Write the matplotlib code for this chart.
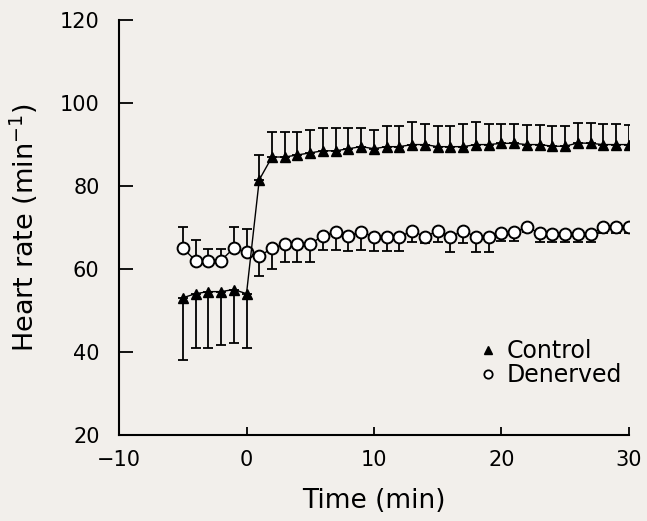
import numpy as np
import matplotlib
matplotlib.use("Agg")
import matplotlib.pyplot as plt
from matplotlib.lines import Line2D

# minutes relative to stimulus
time = np.arange(-5, 31)

control = [53, 54, 54.5, 54.5, 55, 54,
           81.5, 87, 87, 87.5, 88, 88.5, 88.5, 89, 89.5, 89, 89.5, 89.5, 90, 90,
           89.5, 89.5, 89.5, 90, 90, 90.3, 90.3, 90, 90, 89.6, 89.6, 90.4, 90.3,
           90, 90, 90]
control_err = [15, 13, 13.5, 13, 13, 13,
               6, 6, 6, 5.5, 5.5, 5.5, 5.5, 5, 4.5, 4.5, 5, 5, 5.5, 5,
               5, 5, 5.5, 5.5, 5, 4.6, 4.6, 4.8, 4.8, 5, 4.8, 4.8, 4.9,
               5, 5, 4.8]

denerved = [65, 62, 62, 62, 65, 64,
            63, 65, 66, 66, 66, 68, 69, 68, 69, 67.7, 67.7, 67.7, 69.2, 67.7,
            69.2, 67.7, 69.2, 67.7, 67.7, 68.7, 68.9, 70, 68.7, 68.5, 68.5, 68.5,
            68.5, 70, 70, 70]
denerved_err = [5, 5, 2.8, 2.8, 5, 5.5,
                4.7, 5, 4.3, 4.3, 4.3, 3.5, 4.5, 3.6, 4.5, 3.4, 3.4, 3.4, 2.7, 1.4,
                2.7, 3.6, 2.9, 3.6, 3.6, 2, 2.1, 1, 2.2, 2, 2, 2,
                2, 1.3, 1.3, 1.3]

control = np.array(control)
control_err = np.array(control_err)
denerved = np.array(denerved)
denerved_err = np.array(denerved_err)

pre = time <= 0
post = time > 0

bg = '#f2efeb'
fig = plt.figure(figsize=(6.47, 5.21), dpi=100, facecolor=bg)
ax = fig.add_axes([0.184, 0.166, 0.788, 0.795], facecolor=bg)

eb = dict(fmt='none', ecolor='black', elinewidth=1.3, capsize=3.6, capthick=1.3, zorder=2)
# control: lower bars before 0, upper bars after
ax.errorbar(time[pre], control[pre], yerr=[control_err[pre], np.zeros(pre.sum())], **eb)
ax.errorbar(time[post], control[post], yerr=[np.zeros(post.sum()), control_err[post]], **eb)
# denerved: upper bars before 0, lower bars after
ax.errorbar(time[pre], denerved[pre], yerr=[np.zeros(pre.sum()), denerved_err[pre]], **eb)
ax.errorbar(time[post], denerved[post], yerr=[denerved_err[post], np.zeros(post.sum())], **eb)

ax.plot(time, control, color='black', lw=1, marker='^', ms=7.5,
        mfc='black', mec='black', zorder=4)
ax.plot(time, denerved, color='black', lw=1, marker='o', ms=8.5,
        mfc='white', mec='black', mew=1.4, zorder=3)

ax.set_xlim(-10, 30)
ax.set_ylim(20, 120)
ax.set_xticks([-10, 0, 10, 20, 30])
ax.set_yticks([20, 40, 60, 80, 100, 120])
ax.set_xticklabels(['\u221210', '0', '10', '20', '30'])

for s in ['top', 'right']:
    ax.spines[s].set_visible(False)
for s in ['left', 'bottom']:
    ax.spines[s].set_linewidth(1.5)
ax.tick_params(axis='y', direction='in', length=10, width=1.3, labelsize=15, pad=14)
ax.tick_params(axis='x', direction='in', length=6, width=1.3, labelsize=15, pad=11)

ax.set_xlabel('Time (min)', fontsize=19, labelpad=13)
ax.set_ylabel('Heart rate (min$^{-1}$)', fontsize=19.5, labelpad=14)

handles = [Line2D([], [], ls='none', marker='^', ms=6, mfc='black', mec='black'),
           Line2D([], [], ls='none', marker='o', ms=6, mfc='white', mec='black', mew=1.3)]
ax.legend(handles, ['Control', 'Denerved'], loc='upper left', bbox_to_anchor=(0.71, 0.23),
          frameon=False, fontsize=17, handlelength=0.6, handletextpad=0.5, labelspacing=0.0,
          borderaxespad=0, borderpad=0)

fig.savefig('out.png', dpi=100, facecolor=bg)
